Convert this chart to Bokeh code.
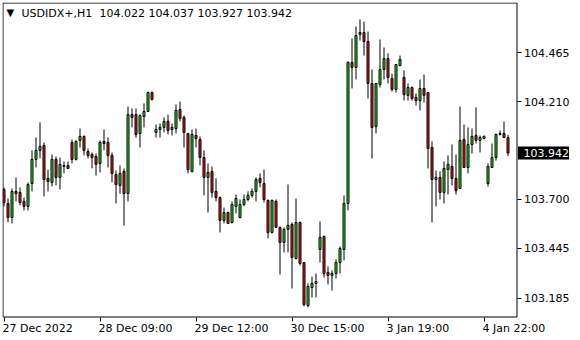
from bokeh.plotting import figure
from bokeh.models import Range1d, FixedTicker, Label, ColumnDataSource, LinearAxis, BoxAnnotation
from bokeh.embed import file_html
from bokeh.resources import INLINE

symbol = "USDIDX+,H1"
header_ohlc = "104.022 104.037 103.927 103.942"

opens = [103.752, 103.679, 103.606, 103.742, 103.737, 103.690, 103.664, 103.783, 103.909, 103.956,
         103.982, 103.810, 103.789, 103.909, 103.815, 103.872, 103.877, 103.997, 103.909, 104.008,
         104.029, 103.950, 103.935, 103.924, 103.888, 104.003, 103.997, 103.930, 103.830, 103.773,
         103.846, 103.731, 104.143, 104.143, 104.044, 104.133, 104.159, 104.258, 104.050, 104.065,
         104.076, 104.107, 104.065, 104.070, 104.170, 104.128, 104.044, 103.846, 104.034, 104.013,
         103.919, 103.815, 103.846, 103.742, 103.710, 103.591, 103.632, 103.580, 103.664, 103.606,
         103.674, 103.700, 103.721, 103.742, 103.810, 103.783, 103.695, 103.528, 103.690, 103.554,
         103.476, 103.544, 103.570, 103.392, 103.580, 103.371, 103.147, 103.241, 103.262, 103.439,
         103.507, 103.319, 103.304, 103.314, 103.371, 103.439, 103.679, 104.415, 104.389, 104.561,
         104.571, 104.524, 104.305, 104.081, 104.300, 104.378, 104.435, 104.331, 104.274, 104.399,
         104.336, 104.243, 104.284, 104.232, 104.216, 104.279, 104.258, 103.971, 103.804, 103.815,
         103.737, 103.856, 103.872, 103.810, 103.757, 104.013, 103.867, 103.987, 104.034, 104.008,
         104.018, 103.783, 103.867, 103.919, 104.039, 104.044, 104.022]
highs = [103.763, 103.705, 103.757, 103.815, 103.763, 103.710, 103.789, 103.956, 104.023, 104.102,
         103.997, 103.856, 103.935, 103.924, 103.919, 103.898, 103.898, 104.013, 104.008, 104.070,
         104.034, 103.966, 103.945, 103.940, 104.008, 104.065, 104.023, 103.945, 103.851, 103.877,
         103.862, 104.185, 104.175, 104.175, 104.143, 104.201, 104.263, 104.263, 104.091, 104.096,
         104.128, 104.143, 104.096, 104.196, 104.211, 104.138, 104.044, 104.065, 104.070, 104.029,
         103.956, 103.888, 103.872, 103.810, 103.716, 103.658, 103.637, 103.690, 103.726, 103.700,
         103.726, 103.742, 103.757, 103.815, 103.836, 103.856, 103.700, 103.700, 103.700, 103.559,
         103.554, 103.778, 103.580, 103.705, 103.585, 103.371, 103.262, 103.298, 103.314, 103.585,
         103.512, 103.351, 103.330, 103.387, 103.455, 103.721, 104.420, 104.540, 104.602, 104.639,
         104.628, 104.576, 104.378, 104.305, 104.535, 104.493, 104.462, 104.357, 104.404, 104.451,
         104.373, 104.305, 104.289, 104.253, 104.326, 104.352, 104.258, 104.003, 103.851, 103.846,
         103.898, 103.930, 103.987, 103.935, 104.185, 104.091, 104.076, 104.070, 104.180, 104.034,
         104.034, 103.888, 103.992, 104.044, 104.060, 104.107, 104.037]
lows = [103.664, 103.580, 103.575, 103.690, 103.669, 103.643, 103.643, 103.742, 103.867, 103.914,
        103.716, 103.742, 103.768, 103.773, 103.752, 103.836, 103.862, 103.888, 103.903, 103.971,
        103.930, 103.914, 103.862, 103.825, 103.841, 103.956, 103.867, 103.789, 103.679, 103.731,
        103.564, 103.690, 104.076, 104.023, 103.971, 104.076, 104.159, 104.216, 104.023, 104.023,
        104.050, 104.039, 104.034, 104.044, 104.107, 103.971, 103.836, 103.841, 103.971, 103.877,
        103.721, 103.632, 103.710, 103.690, 103.528, 103.575, 103.575, 103.575, 103.627, 103.601,
        103.664, 103.690, 103.710, 103.690, 103.763, 103.684, 103.497, 103.523, 103.554, 103.309,
        103.424, 103.424, 103.236, 103.387, 103.356, 103.142, 103.137, 103.189, 103.189, 103.371,
        103.293, 103.257, 103.225, 103.288, 103.314, 103.382, 103.643, 104.279, 104.326, 104.529,
        104.451, 104.227, 103.914, 104.044, 104.284, 104.326, 104.305, 104.263, 104.258, 104.394,
        104.216, 104.216, 104.216, 104.190, 104.164, 104.206, 103.862, 103.580, 103.664, 103.700,
        103.679, 103.726, 103.773, 103.726, 103.757, 103.867, 103.836, 103.940, 103.992, 103.945,
        104.013, 103.768, 103.867, 103.903, 104.034, 104.023, 103.927]
closes = [103.684, 103.606, 103.742, 103.731, 103.684, 103.664, 103.778, 103.909, 103.956, 103.977,
          103.804, 103.794, 103.909, 103.815, 103.883, 103.877, 103.862, 103.909, 104.003, 104.029,
          103.956, 103.930, 103.919, 103.883, 103.997, 103.992, 103.930, 103.836, 103.778, 103.836,
          103.731, 104.143, 104.128, 104.039, 104.138, 104.159, 104.258, 104.222, 104.065, 104.076,
          104.107, 104.060, 104.076, 104.164, 104.123, 104.050, 103.856, 104.039, 104.018, 103.919,
          103.815, 103.841, 103.737, 103.710, 103.591, 103.632, 103.575, 103.674, 103.705, 103.674,
          103.700, 103.721, 103.742, 103.804, 103.789, 103.700, 103.528, 103.695, 103.554, 103.476,
          103.544, 103.564, 103.398, 103.580, 103.366, 103.152, 103.246, 103.262, 103.272, 103.502,
          103.314, 103.304, 103.314, 103.371, 103.444, 103.679, 104.415, 104.389, 104.555, 104.571,
          104.524, 104.305, 104.076, 104.305, 104.378, 104.435, 104.336, 104.274, 104.404, 104.430,
          104.248, 104.284, 104.227, 104.216, 104.279, 104.243, 103.966, 103.804, 103.815, 103.737,
          103.862, 103.883, 103.810, 103.747, 104.008, 103.867, 103.987, 104.029, 104.008, 104.023,
          104.029, 103.872, 103.919, 104.039, 104.044, 104.023, 103.942]

time_ticks = [0, 24, 48, 72, 96, 120]
time_labels = ["27 Dec 2022", "28 Dec 09:00", "29 Dec 12:00", "30 Dec 15:00", "3 Jan 19:00", "4 Jan 22:00"]
price_ticks = [103.185, 103.445, 103.700, 104.210, 104.465]
price_labels = ["103.185", "103.445", "103.700", "104.210", "104.465"]
last_price = 103.942
last_label = "103.942"

UP = "#22e622"
DOWN = "#ea1c1c"
FONT = "DejaVu Sans"
FS = "11px"

# --- pixel geometry helpers (layout only) ---
PXB = 4.0          # pixels per bar
SPX = 0.005216     # price units per pixel
x0 = -1.5 / PXB    # frame starts at canvas x=2, first bar centred at x=3.5
x1 = x0 + 578 / PXB
y1 = 104.7274      # price at canvas y=2
y0 = y1 - 338 * SPX


def dx(px):
    return x0 + (px - 2) / PXB


def dy(py):
    return y1 - (py - 2) * SPX


n = len(opens)
src = ColumnDataSource(dict(
    x=list(range(n)), h=highs, l=lows,
    top=[max(a, b) for a, b in zip(opens, closes)],
    bottom=[min(a, b) for a, b in zip(opens, closes)],
    color=[UP if c >= o else DOWN for o, c in zip(opens, closes)],
))

p = figure(width=580, height=340, output_backend="svg", toolbar_location=None,
           x_range=Range1d(x0, x1), y_range=Range1d(y0, y1),
           x_axis_location=None, y_axis_location=None)
p.min_border_left = 2
p.min_border_top = 2
p.min_border_right = 0
p.min_border_bottom = 0
p.outline_line_color = None
p.background_fill_color = "white"
p.border_fill_color = "white"
p.grid.visible = False

# chart frame
p.quad(left=[dx(2.5)], right=[dx(516.5)], bottom=[dy(316.5)], top=[dy(2.5)],
       fill_color=None, line_color="black", line_width=1)

# candles
p.segment(x0="x", y0="h", x1="x", y1="l", source=src, line_color="black", line_width=1)
p.vbar(x="x", top="top", bottom="bottom", width=0.5, source=src,
       fill_color="color", line_color="black", line_width=1)

# price axis on the right edge of the chart frame
ya = LinearAxis(fixed_location=dx(516.5), ticker=FixedTicker(ticks=price_ticks))
ya.major_label_overrides = {t: s for t, s in zip(price_ticks, price_labels)}
ya.major_tick_out = 4
ya.major_tick_in = 0
ya.minor_tick_out = 0
ya.minor_tick_in = 0
ya.axis_line_color = None
ya.major_tick_line_color = "black"
ya.major_label_standoff = 3
ya.major_label_text_font = FONT
ya.major_label_text_font_size = FS
ya.major_label_text_color = "black"
p.add_layout(ya, "right")

# time axis (tick marks) on the bottom edge of the chart frame
xa = LinearAxis(fixed_location=dy(316.5), ticker=FixedTicker(ticks=time_ticks))
xa.major_label_overrides = {t: "" for t in time_ticks}
xa.major_label_text_font_size = "0px"
xa.major_tick_out = 4
xa.major_tick_in = 0
xa.minor_tick_out = 0
xa.minor_tick_in = 0
xa.axis_line_color = None
xa.major_tick_line_color = "black"
p.add_layout(xa, "below")

# left-aligned time labels starting at their ticks
for t, s in zip(time_ticks, time_labels):
    p.add_layout(Label(x=t, y=dy(328), text=s, text_align="left", text_baseline="middle",
                       x_offset=-1.5, text_font=FONT, text_font_size=FS, text_color="black"))

# header
p.add_layout(Label(x=dx(6), y=dy(12), text="\u25bc", text_align="left",
                   text_baseline="middle", text_font=FONT, text_font_size="10px", text_color="black"))
p.add_layout(Label(x=dx(21), y=dy(13), text=symbol, text_align="left",
                   text_baseline="middle", text_font=FONT, text_font_size=FS, text_color="black"))
p.add_layout(Label(x=dx(99), y=dy(13), text=header_ohlc, text_align="left",
                   text_baseline="middle", text_font=FONT, text_font_size=FS, text_color="black"))

# current price marker
p.add_layout(BoxAnnotation(left=dx(517.5), right=dx(568.5), top=last_price + 6.5 * SPX,
                           bottom=last_price - 6.5 * SPX, fill_color="black", fill_alpha=1.0,
                           line_color=None))
p.add_layout(Label(x=dx(523), y=last_price, text=last_label, text_align="left",
                   text_baseline="middle", text_font=FONT, text_font_size=FS, text_color="white"))

open("out.html", "w").write(file_html(p, INLINE))
